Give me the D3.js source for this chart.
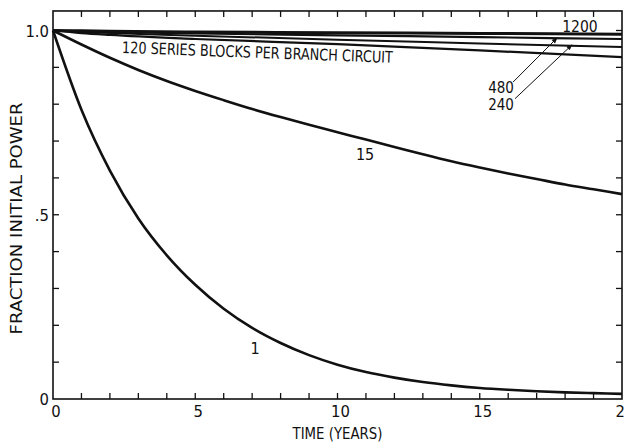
<!DOCTYPE html>
<html><head><meta charset="utf-8">
<script src="https://cdn.jsdelivr.net/npm/d3@7"></script>
<style>
html,body{margin:0;padding:0;background:#fff;}
text{font-family:"DejaVu Sans Condensed","Liberation Sans Narrow",sans-serif;fill:#111;}
</style></head>
<body>
<svg id="chart" width="624" height="442"></svg>
<script>
// ---- data ----
const years = [0,1,2,3,4,5,6,7,8,9,10,11,12,13,14,15,16,17,18,19,20];
const curve1 = [1.0,0.785,0.62,0.49,0.39,0.31,0.245,0.193,0.152,0.119,0.093,0.073,0.058,0.046,0.037,0.030,0.025,0.021,0.018,0.016,0.014];
const curve15 = [1.0,0.962,0.926,0.893,0.863,0.836,0.811,0.787,0.765,0.744,0.724,0.704,0.684,0.664,0.645,0.628,0.612,0.597,0.582,0.569,0.556];
const sparseYears = [0,1,2,5,10,15,20];
const curve120 = [1.0,0.993,0.988,0.977,0.963,0.946,0.928];
const curve240 = [1.0,0.996,0.993,0.986,0.975,0.965,0.955];
const curve480 = [1.0,0.998,0.996,0.992,0.987,0.982,0.977];
const curve1200 = [1.0,0.999,0.998,0.996,0.994,0.992,0.990];
const xTickLabels = ["0","5","10","15","20"];
const yTickLabels = [{v:0,t:"0"},{v:0.5,t:".5"},{v:1.0,t:"1.0"}];
const labelsText = {
  c120:"120 SERIES BLOCKS PER BRANCH CIRCUIT", c240:"240", c480:"480", c1200:"1200", c15:"15", c1:"1",
  xTitle:"TIME (YEARS)", yTitle:"FRACTION INITIAL POWER"
};

// ---- scales ----
const svg = d3.select("#chart");
const x = d3.scaleLinear().domain([0,20]).range([53,622]);
const y = d3.scaleLinear().domain([0,1]).range([399,30.5]);
const yTop = 1.053;

// frame
svg.append("rect").attr("x",x(0)).attr("y",y(yTop)).attr("width",x(20)-x(0)).attr("height",y(0)-y(yTop))
  .attr("fill","none").attr("stroke","#111").attr("stroke-width",1.6);

// ticks
const tl = 6;
const g = svg.append("g").attr("stroke","#111").attr("stroke-width",1.3);
d3.range(1,20).forEach(t=>{
  g.append("line").attr("x1",x(t)).attr("x2",x(t)).attr("y1",y(0)).attr("y2",y(0)-tl);
  g.append("line").attr("x1",x(t)).attr("x2",x(t)).attr("y1",y(yTop)).attr("y2",y(yTop)+tl);
});
d3.range(1,11).forEach(i=>{
  const v=i/10;
  g.append("line").attr("x1",x(0)).attr("x2",x(0)+tl).attr("y1",y(v)).attr("y2",y(v));
  g.append("line").attr("x1",x(20)).attr("x2",x(20)-tl).attr("y1",y(v)).attr("y2",y(v));
});

// tick labels
xTickLabels.forEach(s=>{
  svg.append("text").attr("x",x(+s)+3).attr("y",417).attr("text-anchor","middle")
    .attr("font-size",16.5).text(s);
});
yTickLabels.forEach(d=>{
  svg.append("text").attr("x",x(0)-4).attr("y",y(d.v)+6).attr("text-anchor","end")
    .attr("font-size",16.5).text(d.t);
});

// axis titles
svg.append("text").attr("x",x(10)).attr("y",439).attr("text-anchor","middle")
  .attr("font-size",15.5).attr("textLength",90).attr("lengthAdjust","spacingAndGlyphs").text(labelsText.xTitle);
svg.append("text").attr("transform",`translate(22,${y(0.49)}) rotate(-90)`).attr("text-anchor","middle")
  .attr("font-size",15.5).attr("textLength",232).attr("lengthAdjust","spacingAndGlyphs").text(labelsText.yTitle);

// curves
const line = d3.line().x(d=>x(d[0])).y(d=>y(d[1])).curve(d3.curveMonotoneX);
function draw(xs, vs, w){
  svg.append("path").attr("d", line(xs.map((t,i)=>[t,vs[i]])))
    .attr("fill","none").attr("stroke","#111").attr("stroke-width",w);
}
draw(years, curve1, 2.6);
draw(years, curve15, 2.6);
draw(sparseYears, curve120, 2.2);
draw(sparseYears, curve240, 2.0);
draw(sparseYears, curve480, 2.2);
draw(sparseYears, curve1200, 3.0);

// curve labels
svg.append("text").attr("transform",`translate(${x(2.42)},${y(0.939)}) rotate(2.1)`)
  .attr("font-size",16).attr("textLength",271).attr("lengthAdjust","spacingAndGlyphs")
  .text(labelsText.c120);
svg.append("text").attr("x",x(10.97)).attr("y",y(0.665)+6).attr("text-anchor","middle").attr("font-size",16).text(labelsText.c15);
svg.append("text").attr("x",x(7.1)).attr("y",y(0.138)+6).attr("text-anchor","middle").attr("font-size",16).text(labelsText.c1);
svg.append("text").attr("x",x(18.52)).attr("y",y(1.012)+6).attr("text-anchor","middle").attr("font-size",15.5).text(labelsText.c1200);
svg.append("text").attr("x",x(15.75)).attr("y",y(0.847)+6).attr("text-anchor","middle").attr("font-size",15).text(labelsText.c480);
svg.append("text").attr("x",x(15.75)).attr("y",y(0.80)+6).attr("text-anchor","middle").attr("font-size",15).text(labelsText.c240);

// arrows
svg.append("defs").append("marker").attr("id","ah").attr("viewBox","0 0 10 10").attr("refX",9).attr("refY",5)
  .attr("markerWidth",9).attr("markerHeight",6).attr("orient","auto").attr("markerUnits","userSpaceOnUse")
  .append("path").attr("d","M0,1 L10,5 L0,9 Z").attr("fill","#111");
const arrows = [
  {from:[16.17,0.86], to:[17.72,0.98]},
  {from:[16.24,0.815], to:[18.24,0.961]}
];
arrows.forEach(a=>{
  svg.append("line").attr("x1",x(a.from[0])).attr("y1",y(a.from[1])).attr("x2",x(a.to[0])).attr("y2",y(a.to[1]))
    .attr("stroke","#111").attr("stroke-width",1).attr("marker-end","url(#ah)");
});
</script>
</body></html>
